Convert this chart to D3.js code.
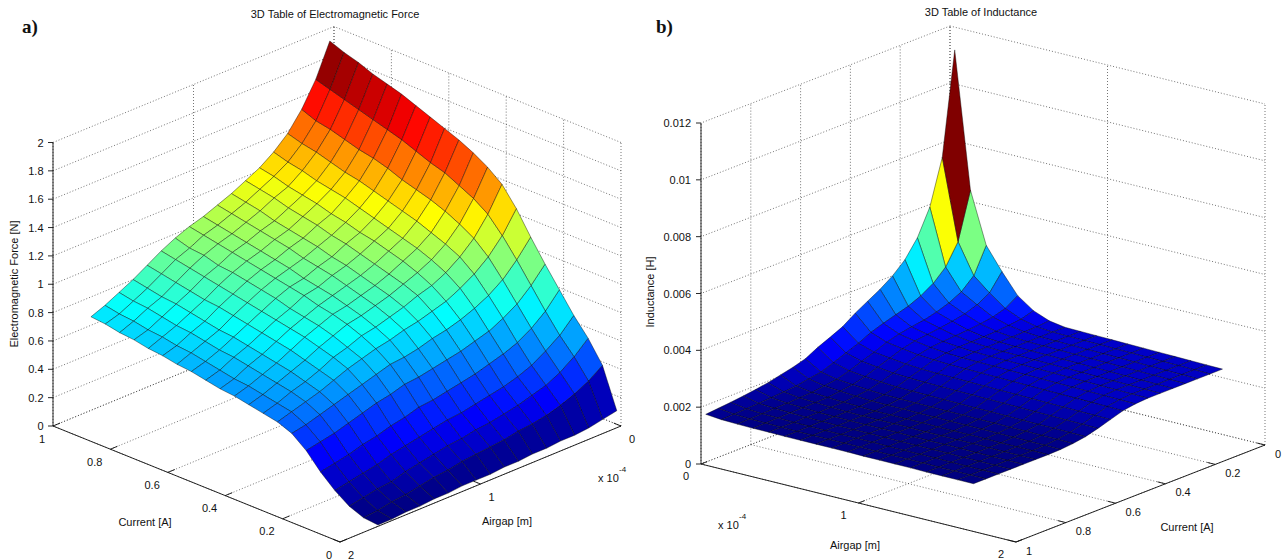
<!DOCTYPE html>
<html>
<head>
<meta charset="utf-8">
<title>3D Tables of Force and Inductance</title>
<script src="https://cdn.jsdelivr.net/npm/d3@7"></script>
<style>
  html, body { margin: 0; padding: 0; background: #fff; }
  svg { display: block; font-family: "Liberation Sans", Arial, Helvetica, sans-serif; }
  .grid { stroke: #3a3a3a; stroke-width: 0.7; stroke-dasharray: 1 2; fill: none; }
  .axis-line { stroke: #111; stroke-width: 0.9; fill: none; }
  .tick, .label, .title { font-size: 11px; fill: #111; }
  .tag { font-family: "Liberation Serif", "Times New Roman", serif; font-weight: bold; font-size: 19px; fill: #111; }
  .cell { stroke: #000; stroke-width: 0.5; stroke-opacity: 0.8; stroke-linejoin: round; }
</style>
</head>
<body>
<svg id="chart" width="1282" height="560"></svg>
<script>
// grid of the lookup tables
const currentA = [0, 0.05, 0.1, 0.15, 0.2, 0.25, 0.3, 0.35, 0.4, 0.45, 0.5, 0.55, 0.6, 0.65, 0.7, 0.75, 0.8, 0.85, 0.9, 0.95, 1];
const airgapM = [0.03e-4, 0.13e-4, 0.23e-4, 0.33e-4, 0.43e-4, 0.53e-4, 0.63e-4, 0.73e-4, 0.83e-4,
  0.93e-4, 1.03e-4, 1.13e-4, 1.23e-4, 1.33e-4, 1.43e-4, 1.53e-4, 1.63e-4, 1.73e-4];

// force [N], one row per airgap, one column per current
const forceN = [
  [0.12,0.40,0.55,0.67,0.81,0.95,1.10,1.26,1.39,1.47,1.53,1.58,1.62,1.66,1.70,1.74,1.77,1.80,1.84,1.87,1.91],
  [0.10,0.33,0.46,0.57,0.70,0.84,0.98,1.11,1.22,1.29,1.34,1.39,1.42,1.46,1.50,1.53,1.56,1.59,1.62,1.65,1.68],
  [0.08,0.28,0.39,0.50,0.62,0.75,0.88,1.00,1.09,1.15,1.20,1.24,1.27,1.30,1.34,1.37,1.39,1.42,1.45,1.47,1.51],
  [0.07,0.24,0.34,0.44,0.56,0.69,0.81,0.92,1.00,1.05,1.09,1.13,1.16,1.19,1.22,1.25,1.27,1.30,1.33,1.35,1.38],
  [0.07,0.21,0.31,0.40,0.52,0.64,0.76,0.86,0.93,0.98,1.02,1.05,1.08,1.11,1.14,1.17,1.19,1.21,1.24,1.26,1.29],
  [0.06,0.19,0.28,0.37,0.49,0.61,0.72,0.81,0.88,0.93,0.97,1.00,1.03,1.05,1.08,1.10,1.13,1.15,1.17,1.20,1.22],
  [0.06,0.18,0.26,0.35,0.46,0.58,0.69,0.78,0.85,0.89,0.92,0.95,0.98,1.01,1.03,1.06,1.08,1.10,1.13,1.15,1.17],
  [0.05,0.16,0.24,0.33,0.44,0.56,0.67,0.75,0.81,0.85,0.88,0.91,0.94,0.96,0.99,1.01,1.03,1.05,1.08,1.10,1.12],
  [0.05,0.15,0.23,0.31,0.42,0.54,0.64,0.73,0.78,0.82,0.85,0.88,0.91,0.93,0.95,0.98,1.00,1.02,1.04,1.06,1.08],
  [0.04,0.14,0.21,0.30,0.40,0.52,0.62,0.70,0.75,0.79,0.82,0.85,0.87,0.89,0.92,0.94,0.96,0.98,1.00,1.02,1.04],
  [0.04,0.13,0.20,0.28,0.39,0.51,0.61,0.68,0.73,0.77,0.80,0.82,0.85,0.87,0.89,0.91,0.93,0.95,0.97,0.99,1.01],
  [0.04,0.11,0.18,0.26,0.36,0.48,0.58,0.65,0.69,0.73,0.76,0.78,0.80,0.83,0.85,0.87,0.89,0.90,0.93,0.94,0.97],
  [0.03,0.10,0.16,0.24,0.34,0.46,0.55,0.62,0.66,0.69,0.72,0.74,0.76,0.78,0.80,0.82,0.84,0.86,0.88,0.90,0.92],
  [0.03,0.08,0.14,0.22,0.31,0.43,0.52,0.58,0.61,0.64,0.67,0.69,0.71,0.73,0.75,0.77,0.78,0.80,0.82,0.84,0.86],
  [0.02,0.06,0.11,0.19,0.29,0.40,0.49,0.54,0.57,0.60,0.62,0.64,0.66,0.68,0.69,0.71,0.73,0.75,0.76,0.78,0.80],
  [0.02,0.05,0.10,0.17,0.26,0.37,0.46,0.51,0.54,0.56,0.58,0.60,0.62,0.63,0.65,0.67,0.68,0.70,0.72,0.73,0.75],
  [0.01,0.03,0.08,0.15,0.24,0.35,0.43,0.48,0.50,0.52,0.54,0.55,0.57,0.59,0.61,0.62,0.64,0.65,0.67,0.68,0.70],
  [0.01,0.02,0.06,0.13,0.22,0.33,0.41,0.45,0.47,0.49,0.51,0.52,0.54,0.56,0.57,0.59,0.60,0.62,0.63,0.65,0.66]
];

// inductance [mH], same layout
const inductanceMH = [
  [11.20,7.59,6.01,5.10,4.50,4.10,3.80,3.55,3.30,3.00,2.80,2.61,2.38,2.25,2.15,2.05,1.98,1.92,1.87,1.83,1.79],
  [6.40,4.76,4.04,3.63,3.36,3.17,3.04,2.91,2.76,2.55,2.38,2.21,2.05,1.98,1.90,1.86,1.83,1.80,1.78,1.76,1.74],
  [4.60,3.70,3.30,3.08,2.93,2.82,2.75,2.67,2.55,2.37,2.22,2.06,1.93,1.87,1.81,1.79,1.77,1.76,1.74,1.73,1.72],
  [3.81,3.23,2.98,2.83,2.74,2.67,2.62,2.56,2.46,2.30,2.15,1.99,1.88,1.82,1.77,1.76,1.75,1.74,1.73,1.72,1.71],
  [3.10,2.82,2.69,2.62,2.57,2.54,2.51,2.47,2.38,2.23,2.08,1.94,1.83,1.78,1.74,1.73,1.72,1.72,1.71,1.71,1.71],
  [2.71,2.58,2.53,2.49,2.47,2.46,2.45,2.41,2.34,2.19,2.05,1.90,1.80,1.75,1.72,1.71,1.71,1.71,1.71,1.70,1.70],
  [2.49,2.45,2.44,2.43,2.42,2.42,2.41,2.38,2.31,2.17,2.03,1.89,1.79,1.74,1.70,1.70,1.70,1.70,1.70,1.70,1.70],
  [2.40,2.40,2.40,2.40,2.40,2.40,2.40,2.37,2.30,2.16,2.02,1.88,1.78,1.74,1.70,1.70,1.70,1.70,1.70,1.70,1.70],
  [2.39,2.39,2.39,2.39,2.39,2.39,2.39,2.36,2.29,2.15,2.01,1.87,1.78,1.73,1.70,1.70,1.70,1.70,1.70,1.70,1.70],
  [2.38,2.38,2.38,2.38,2.38,2.38,2.38,2.35,2.28,2.14,2.00,1.86,1.77,1.73,1.70,1.70,1.70,1.70,1.70,1.70,1.70],
  [2.37,2.37,2.37,2.37,2.37,2.37,2.37,2.34,2.27,2.13,1.99,1.85,1.77,1.72,1.69,1.69,1.69,1.69,1.69,1.69,1.69],
  [2.36,2.36,2.36,2.36,2.36,2.36,2.36,2.33,2.26,2.12,1.98,1.85,1.76,1.72,1.69,1.69,1.69,1.69,1.69,1.69,1.69],
  [2.35,2.35,2.35,2.35,2.35,2.35,2.35,2.32,2.25,2.11,1.97,1.84,1.76,1.72,1.69,1.69,1.69,1.69,1.69,1.69,1.69],
  [2.34,2.34,2.34,2.34,2.34,2.34,2.34,2.31,2.24,2.10,1.96,1.83,1.75,1.71,1.69,1.69,1.69,1.69,1.69,1.69,1.69],
  [2.33,2.33,2.33,2.33,2.33,2.33,2.33,2.30,2.23,2.09,1.95,1.82,1.75,1.71,1.68,1.68,1.68,1.68,1.68,1.68,1.68],
  [2.32,2.32,2.32,2.32,2.32,2.32,2.32,2.29,2.22,2.08,1.94,1.82,1.74,1.70,1.68,1.68,1.68,1.68,1.68,1.68,1.68],
  [2.31,2.31,2.31,2.31,2.31,2.31,2.31,2.28,2.21,2.07,1.93,1.81,1.74,1.70,1.68,1.68,1.68,1.68,1.68,1.68,1.68],
  [2.30,2.30,2.30,2.30,2.30,2.30,2.30,2.27,2.20,2.06,1.92,1.80,1.73,1.69,1.68,1.68,1.68,1.68,1.68,1.68,1.68]
];

// ticks
const currentTicks = [0, 0.2, 0.4, 0.6, 0.8, 1];
const currentTickLabels = ['0', '0.2', '0.4', '0.6', '0.8', '1'];
const airgapTicks = [0, 1e-4, 2e-4];
const airgapTickLabels = ['0', '1', '2'];
const forceTicks = [0, 0.2, 0.4, 0.6, 0.8, 1, 1.2, 1.4, 1.6, 1.8, 2];
const forceTickLabels = ['0', '0.2', '0.4', '0.6', '0.8', '1', '1.2', '1.4', '1.6', '1.8', '2'];
const inductanceTicks = [0, 0.002, 0.004, 0.006, 0.008, 0.01, 0.012];
const inductanceTickLabels = ['0', '0.002', '0.004', '0.006', '0.008', '0.01', '0.012'];

const svg = d3.select('#chart');

// MATLAB "jet"
function jet(t) {
  const f = v => Math.max(0, Math.min(1, v));
  t = f(t);
  return d3.rgb(255 * f(Math.min(4 * t - 1.5, 4.5 - 4 * t)),
                255 * f(Math.min(4 * t - 0.5, 3.5 - 4 * t)),
                255 * f(Math.min(4 * t + 0.5, 2.5 - 4 * t))).toString();
}

/*
  Each panel is an orthographic box: box coords X (airgap), Y (current), Z all in [0,1],
  mapped to the screen by origin + X*ex + Y*ey + Z*ez.
*/
function drawPanel(p) {
  const g = svg.append('g');
  const sx = d3.scaleLinear().domain([0, 2e-4]).range([0, 1]);
  const sy = d3.scaleLinear().domain([0, 1]).range([0, 1]);
  const sz = d3.scaleLinear().domain(p.zDomain).range([0, 1]);
  const proj = (X, Y, Z) => [
    p.origin[0] + X * p.ex[0] + Y * p.ey[0] + Z * p.ez[0],
    p.origin[1] + X * p.ex[1] + Y * p.ey[1] + Z * p.ez[1]
  ];
  const line = d3.line();
  const seg = (a, b, cls) => g.append('path').attr('class', cls).attr('d', line([proj(...a), proj(...b)]));

  const [Xb, Yb] = p.back, Xf = 1 - Xb, Yf = 1 - Yb;
  const zT = p.zTicks.map(sz), xT = airgapTicks.map(sx), yT = currentTicks.map(sy);

  // back walls and floor
  zT.forEach(z => { seg([Xb, 0, z], [Xb, 1, z], 'grid'); seg([0, Yb, z], [1, Yb, z], 'grid'); });
  yT.forEach(y => { seg([Xb, y, 0], [Xb, y, 1], 'grid'); seg([0, y, 0], [1, y, 0], 'grid'); });
  xT.forEach(x => { seg([x, Yb, 0], [x, Yb, 1], 'grid'); seg([x, 0, 0], [x, 1, 0], 'grid'); });

  // viewing direction = null vector of the projection (pointing up, toward the viewer)
  const r1 = [p.ex[0], p.ey[0], p.ez[0]], r2 = [p.ex[1], p.ey[1], p.ez[1]];
  let view = [r1[1] * r2[2] - r1[2] * r2[1], r1[2] * r2[0] - r1[0] * r2[2], r1[0] * r2[1] - r1[1] * r2[0]];
  if (view[2] < 0) view = view.map(v => -v);

  const colour = d3.scaleLinear().domain(d3.extent(p.table.flat())).range([0, 1]);
  const cells = [];
  for (let j = 0; j < airgapM.length - 1; j++) {
    for (let i = 0; i < currentA.length - 1; i++) {
      const c = [[j, i], [j + 1, i], [j + 1, i + 1], [j, i + 1]]
        .map(([jj, ii]) => [sx(airgapM[jj]), sy(currentA[ii]), sz(p.table[jj][ii] * p.unit)]);
      cells.push({
        pts: c.map(q => proj(...q)),
        fill: jet(colour(p.table[j][i])),
        depth: d3.mean(c, q => q[0] * view[0] + q[1] * view[1] + q[2] * view[2])
      });
    }
  }
  cells.sort((a, b) => a.depth - b.depth);
  g.append('g').selectAll('path').data(cells).join('path')
    .attr('class', 'cell')
    .attr('d', d => 'M' + d.pts.join('L') + 'Z')
    .attr('fill', d => d.fill);

  // axes
  const [XL, YL] = p.zCorner;
  seg([0, Yf, 0], [1, Yf, 0], 'axis-line');
  seg([Xf, 0, 0], [Xf, 1, 0], 'axis-line');
  seg([XL, YL, 0], [XL, YL, 1], 'axis-line');

  p.zTicks.forEach((v, k) => {
    const [x, y] = proj(XL, YL, sz(v));
    g.append('line').attr('class', 'axis-line').attr('x1', x - 5).attr('x2', x).attr('y1', y).attr('y2', y);
    g.append('text').attr('class', 'tick').attr('text-anchor', 'end')
      .attr('x', x - p.zGap).attr('y', y + 4).text(p.zTickLabels[k]);
  });

  const tl = 0.025;
  airgapTicks.forEach((v, k) => {
    const X = sx(v);
    seg([X, Yf, 0], [X, Yf + (Yb - Yf) * tl, 0], 'axis-line');
    const [x, y] = proj(X, Yf, 0);
    g.append('text').attr('class', 'tick').attr('text-anchor', p.xLab.anchor)
      .attr('x', x + p.xLab.dx).attr('y', y + p.xLab.dy).text(airgapTickLabels[k]);
  });
  currentTicks.forEach((v, k) => {
    const Y = sy(v);
    seg([Xf, Y, 0], [Xf + (Xb - Xf) * tl, Y, 0], 'axis-line');
    const [x, y] = proj(Xf, Y, 0);
    g.append('text').attr('class', 'tick').attr('text-anchor', p.yLab.anchor)
      .attr('x', x + p.yLab.dx).attr('y', y + p.yLab.dy).text(currentTickLabels[k]);
  });

  // texts
  g.append('text').attr('class', 'title').attr('text-anchor', 'middle')
    .attr('x', p.title[0]).attr('y', p.title[1]).text(p.titleText);
  g.append('text').attr('class', 'tag').attr('x', p.tag[0]).attr('y', p.tag[1]).text(p.tagText);
  g.append('text').attr('class', 'label').attr('text-anchor', 'middle')
    .attr('x', p.xTitle[0]).attr('y', p.xTitle[1]).text('Airgap [m]');
  g.append('text').attr('class', 'label').attr('text-anchor', 'middle')
    .attr('x', p.yTitle[0]).attr('y', p.yTitle[1]).text('Current [A]');
  g.append('text').attr('class', 'label').attr('text-anchor', 'middle')
    .attr('transform', `translate(${p.zTitle[0]},${p.zTitle[1]}) rotate(-90)`).text(p.zTitleText);
  g.append('text').attr('class', 'tick').attr('x', p.expo[0]).attr('y', p.expo[1]).text('x 10');
  g.append('text').attr('class', 'tick').style('font-size', '8px')
    .attr('x', p.expo[0] + 21).attr('y', p.expo[1] - 10).text('-4');
}

drawPanel({
  origin: [621, 426], ex: [-281, 116], ey: [-287, -116], ez: [0, -283.5],
  back: [0, 1], zCorner: [1, 1],
  zDomain: [0, 2], zTicks: forceTicks, zTickLabels: forceTickLabels, zGap: 9.5,
  table: forceN, unit: 1,
  xLab: { anchor: 'start', dx: 8, dy: 16.5 },
  yLab: { anchor: 'end', dx: -8, dy: 16.5 },
  title: [335, 18], titleText: '3D Table of Electromagnetic Force',
  tag: [22, 33], tagText: 'a)',
  xTitle: [507, 525], yTitle: [145, 526],
  zTitle: [18, 284], zTitleText: 'Electromagnetic Force [N]',
  expo: [598, 482]
});

drawPanel({
  origin: [950, 367], ex: [315, 78], ey: [-249, 97], ez: [0, -341],
  back: [0, 0], zCorner: [0, 1],
  zDomain: [0, 0.012], zTicks: inductanceTicks, zTickLabels: inductanceTickLabels, zGap: 10,
  table: inductanceMH, unit: 1e-3,
  xLab: { anchor: 'end', dx: -12, dy: 15.5 },
  yLab: { anchor: 'start', dx: 10, dy: 12.5 },
  title: [981, 16], titleText: '3D Table of Inductance',
  tag: [656, 33], tagText: 'b)',
  xTitle: [855, 549], yTitle: [1187, 531],
  zTitle: [654, 292], zTitleText: 'Inductance [H]',
  expo: [718, 529]
});
</script>
</body>
</html>
